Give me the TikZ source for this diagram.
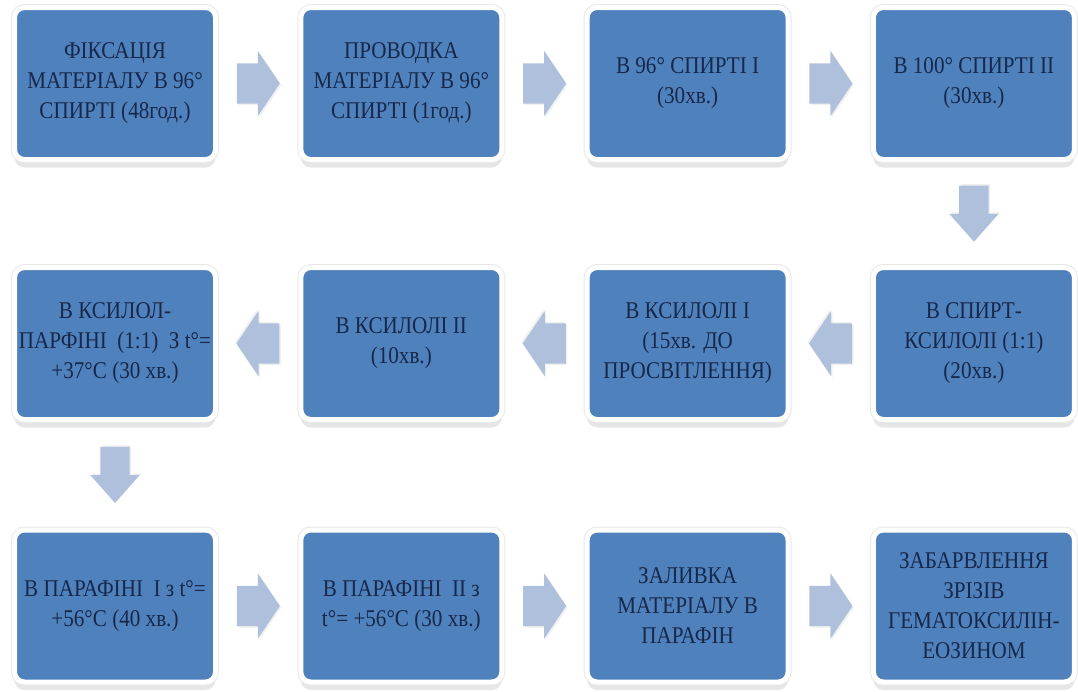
\documentclass[tikz,border=0pt]{standalone}
\usepackage{fontspec}
\setmainfont{Liberation Serif}[FakeStretch=0.88]
\usepackage{tikz}
\usetikzlibrary{positioning,shapes.arrows,shadows,calc}
\definecolor{stepblue}{HTML}{4F81BD}
\definecolor{arrowblue}{HTML}{AFC0DD}
\definecolor{textnavy}{HTML}{17284A}

\begin{document}
\begin{tikzpicture}[node distance=260pt and 286.3pt, on grid,
    stepbox/.style={rectangle, rounded corners=10pt, fill=stepblue, draw=white,
      line width=5pt, minimum width=201pt, minimum height=152pt, inner sep=1pt,
      align=center, text=textnavy, font=\fontsize{24}{30}\selectfont,
      drop shadow={opacity=0.2, shadow xshift=0pt, shadow yshift=-8pt},
      preaction={draw=black!9, line width=7pt}},
    harrow/.style={single arrow, fill=arrowblue, inner xsep=0pt, inner ysep=20pt,
      anchor=tail, minimum height=43pt, minimum width=65pt,
      single arrow head extend=12.5pt, single arrow tip angle=112,
      single arrow head indent=0pt,
      drop shadow={opacity=0.12, shadow xshift=1.5pt, shadow yshift=-1.5pt}},
    larrow/.style={harrow, rotate=180,
      drop shadow={opacity=0.12, shadow xshift=-1.5pt, shadow yshift=1.5pt}},
    darrow/.style={single arrow, fill=arrowblue, inner xsep=0pt, inner ysep=14.5pt,
      anchor=tail, rotate=-90, minimum height=56pt, minimum width=49pt,
      single arrow head extend=10pt, single arrow tip angle=83,
      single arrow head indent=0pt,
      drop shadow={opacity=0.12, shadow xshift=1.5pt, shadow yshift=1.5pt}}]
    \useasboundingbox (0,0) rectangle (1078pt,-691pt);

    \node[stepbox] (s1) at (115pt,-83.5pt) {ФІКСАЦІЯ\\МАТЕРІАЛУ В 96°\\СПИРТІ (48год.)};
    \node[stepbox, right=of s1] (s2) {ПРОВОДКА\\МАТЕРІАЛУ В 96°\\СПИРТІ (1год.)};
    \node[stepbox, right=of s2] (s3) {В 96° СПИРТІ І\\(30хв.)};
    \node[stepbox, right=of s3] (s4) {В 100° СПИРТІ ІІ\\(30хв.)};
    \node[stepbox, below=of s4] (s5) {В СПИРТ-\\КСИЛОЛІ (1:1)\\(20хв.)};
    \node[stepbox, left=of s5] (s6) {В КСИЛОЛІ І\\(15хв. ДО\\ПРОСВІТЛЕННЯ)};
    \node[stepbox, left=of s6] (s7) {В КСИЛОЛІ ІІ\\(10хв.)};
    \node[stepbox, left=of s7] (s8) {В КСИЛОЛ-\\ПАРФІНІ~ (1:1)~ З t°=\\+37°С (30 хв.)};
    \node[stepbox, below=262.5pt of s8] (s9) {В ПАРАФІНІ~ І з t°=\\+56°С (40 хв.)};
    \node[stepbox, right=of s9] (s10) {В ПАРАФІНІ~ ІІ з\\t°= +56°С (30 хв.)};
    \node[stepbox, right=of s10] (s11) {ЗАЛИВКА\\МАТЕРІАЛУ В\\ПАРАФІН};
    \node[stepbox, right=of s11] (s12) {ЗАБАРВЛЕННЯ\\ЗРІЗІВ\\ГЕМАТОКСИЛІН-\\ЕОЗИНОМ};

    \node[harrow] (a1) at ($(s1.east)!0.5!(s2.west)!21.5pt!(s1.east)$) {};
    \node[harrow] (a2) at ($(s2.east)!0.5!(s3.west)!21.5pt!(s2.east)$) {};
    \node[harrow] (a3) at ($(s3.east)!0.5!(s4.west)!21.5pt!(s3.east)$) {};
    \node[darrow] (a4) at ($(s4.south)!0.5!(s5.north)!28pt!(s4.south)$) {};
    \node[larrow] (a5) at ($(s5.west)!0.5!(s6.east)!21.5pt!(s5.west)$) {};
    \node[larrow] (a6) at ($(s6.west)!0.5!(s7.east)!21.5pt!(s6.west)$) {};
    \node[larrow] (a7) at ($(s7.west)!0.5!(s8.east)!21.5pt!(s7.west)$) {};
    \node[darrow] (a8) at ($(s8.south)!0.5!(s9.north)!28pt!(s8.south)$) {};
    \node[harrow] (a9) at ($(s9.east)!0.5!(s10.west)!21.5pt!(s9.east)$) {};
    \node[harrow] (a10) at ($(s10.east)!0.5!(s11.west)!21.5pt!(s10.east)$) {};
    \node[harrow] (a11) at ($(s11.east)!0.5!(s12.west)!21.5pt!(s11.east)$) {};
\end{tikzpicture}
\end{document}
